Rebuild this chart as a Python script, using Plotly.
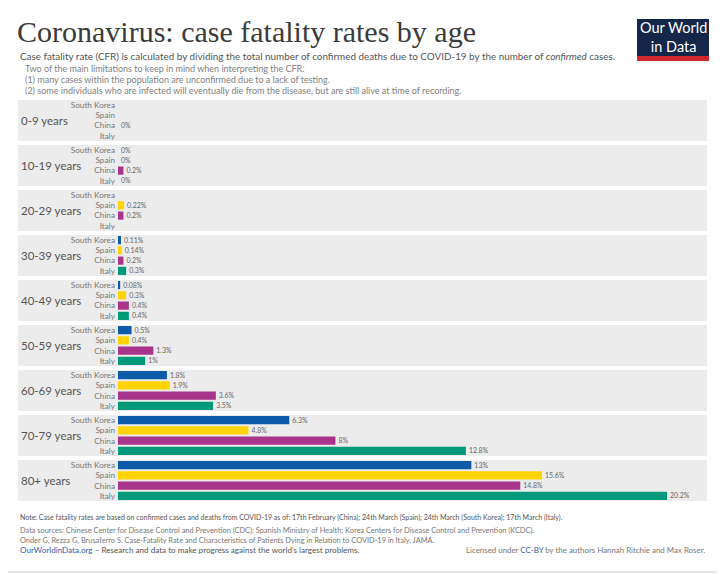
import plotly.graph_objects as go
from plotly.subplots import make_subplots

# data (None = no bar shown)
age_groups = ["0-9 years", "10-19 years", "20-29 years", "30-39 years", "40-49 years",
              "50-59 years", "60-69 years", "70-79 years", "80+ years"]
countries = ["South Korea", "Spain", "China", "Italy"]
south_korea = [None, 0, None, 0.11, 0.08, 0.5, 1.8, 6.3, 13]
spain = [None, 0, 0.22, 0.14, 0.3, 0.4, 1.9, 4.8, 15.6]
china = [0, 0.2, 0.2, 0.2, 0.4, 1.3, 3.6, 8, 14.8]
italy = [None, 0, None, 0.3, 0.4, 1, 3.5, 12.8, 20.2]
colors = {"South Korea": "#0c5aa8", "Spain": "#ffd400", "China": "#a8358b", "Italy": "#00997a"}

series = {"South Korea": south_korea, "Spain": spain, "China": china, "Italy": italy}

# page has an 8px body margin, so the figure is a bit smaller than the window
OX, OY = 8, 8
W, H = 725 - OX, 574 - OY
ML, MT = 118 - OX, 100 - OY
MR, MB = W - (707 - OX), H - (501 - OY)
PW, PH = W - ML - MR, H - MT - MB
FONT = "Lato"


def px_x(px):
    # reference pixel x -> paper x
    return (px - OX - ML) / PW


def px_y(py):
    # reference pixel y -> paper y
    return (H - MB - (py - OY)) / PH


fig = make_subplots(rows=len(age_groups), cols=1, vertical_spacing=4 / PH)

for i, age in enumerate(age_groups):
    row = i + 1
    for c in countries:
        v = series[c][i]
        fig.add_trace(go.Bar(
            y=[c], x=[v], orientation="h",
            marker=dict(color=colors[c], line=dict(width=0)),
            text=[f"{v:g}%" if v is not None else ""],
            textposition="outside", cliponaxis=False,
            textfont=dict(family=FONT, size=9.3, color="#666"),
            showlegend=False, hoverinfo="skip"), row=row, col=1)
    fig.update_yaxes(categoryorder="array", categoryarray=countries, autorange="reversed",
                     showgrid=False, zeroline=False, ticks="", showline=False, ticklabelstandoff=2,
                     tickfont=dict(family=FONT, size=8.2, color="#777"), row=row, col=1)
    fig.update_xaxes(range=[0, 21.67], visible=False, showgrid=False, row=row, col=1)
    yref = "y domain" if row == 1 else f"y{row} domain"
    # gray panel behind each age group
    fig.add_shape(type="rect", xref="paper", yref=yref, x0=px_x(18), x1=px_x(707), y0=0, y1=1,
                  fillcolor="#ececec", line=dict(width=0), layer="below")
    fig.add_annotation(text=age, xref="paper", yref=yref, x=px_x(19), y=0.5,
                       xanchor="left", yanchor="middle", showarrow=False,
                       font=dict(family=FONT, size=11.5, color="#555"))

# header
fig.add_annotation(text="Coronavirus: case fatality rates by age", xref="paper", yref="paper",
                   x=px_x(15), y=px_y(50), xanchor="left", yanchor="bottom", showarrow=False,
                   font=dict(family="Liberation Serif", size=30, color="#3b3b3b"))
fig.add_annotation(text="Case fatality rate (CFR) is calculated by dividing the total number of confirmed deaths "
                        "due to COVID-19 by the number of <i>confirmed</i> cases.",
                   xref="paper", yref="paper", x=px_x(18), y=px_y(56), xanchor="left", yanchor="middle",
                   showarrow=False, font=dict(family=FONT, size=9.9, color="#555"))
notes = ["Two of the main limitations to keep in mind when interpreting the CFR:",
         "(1) many cases within the population are unconfirmed due to a lack of testing.",
         "(2) some individuals who are infected will eventually die from the disease, but are still alive at time of recording."]
for k, line in enumerate(notes):
    fig.add_annotation(text=line, xref="paper", yref="paper", x=px_x(23), y=px_y(68 + 11 * k),
                       xanchor="left", yanchor="middle", showarrow=False,
                       font=dict(family=FONT, size=9, color="#808080"))

# logo
fig.add_shape(type="rect", xref="paper", yref="paper", x0=px_x(637), x1=px_x(709), y0=px_y(61), y1=px_y(19),
              fillcolor="#14274b", line=dict(width=0))
fig.add_shape(type="rect", xref="paper", yref="paper", x0=px_x(637), x1=px_x(709), y0=px_y(61), y1=px_y(56),
              fillcolor="#d0282a", line=dict(width=0))
fig.add_annotation(text="Our World<br>in Data", xref="paper", yref="paper", x=px_x(673), y=px_y(37),
                   xanchor="center", yanchor="middle", showarrow=False,
                   font=dict(family=FONT, size=14.5, color="white"))

# footer
footer = [("Note: Case fatality rates are based on confirmed cases and deaths from COVID-19 as of: 17th February "
           "(China); 24th March (Spain); 24th March (South Korea); 17th March (Italy).", 517, "#555", 7.0),
          ("Data sources: Chinese Center for Disease Control and Prevention (CDC); Spanish Ministry of Health; "
           "Korea Centers for Disease Control and Prevention (KCDC).", 530, "#777", 7.4),
          ("Onder G, Rezza G, Brusaferro S. Case-Fatality Rate and Characteristics of Patients Dying in Relation "
           "to COVID-19 in Italy. JAMA.", 540, "#777", 7.4),
          ("<span style='color:#3360a9'>OurWorldinData.org</span> – Research and data to make progress against "
           "the world’s largest problems.", 550, "#555", 8.1)]
for text, py, col, size in footer:
    fig.add_annotation(text=text, xref="paper", yref="paper", x=px_x(18), y=px_y(py),
                       xanchor="left", yanchor="middle", showarrow=False,
                       font=dict(family=FONT, size=size, color=col))
fig.add_annotation(text="Licensed under <span style='color:#3360a9'>CC-BY</span> by the authors Hannah Ritchie "
                        "and Max Roser.", xref="paper", yref="paper", x=px_x(707), y=px_y(550),
                   xanchor="right", yanchor="middle", showarrow=False,
                   font=dict(family=FONT, size=7.9, color="#777"))

# thin frame line at the bottom
fig.add_shape(type="line", xref="paper", yref="paper", x0=px_x(0), x1=px_x(725), y0=px_y(572), y1=px_y(572),
              line=dict(color="#dcdcdc", width=1.5))

fig.update_layout(width=W, height=H, margin=dict(l=ML, r=MR, t=MT, b=MB),
                  paper_bgcolor="white", plot_bgcolor="rgba(0,0,0,0)",
                  bargap=0.2, font=dict(family=FONT))

fig.write_html("out.html")
